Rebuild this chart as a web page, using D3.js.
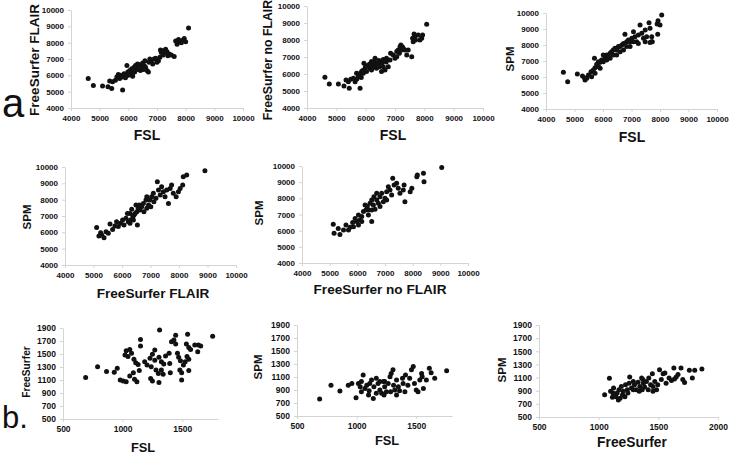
<!DOCTYPE html>
<html><head><meta charset="utf-8">
<script src="https://cdn.jsdelivr.net/npm/d3@7/dist/d3.min.js"></script>
<style>
body{margin:0;background:#fff}
svg{display:block;font-family:"Liberation Sans",Arial,sans-serif}
</style></head><body><svg id="c" width="733" height="453"></svg>
<script>
// ---- tick labels ----
const ticksA = [4000,5000,6000,7000,8000,9000,10000];
const ticksBy = [500,700,900,1100,1300,1500,1700,1900];
const ticksBx = [500,1000,1500];
const ticksBx2 = [500,1000,1500,2000];

// ---- data: [x, y] pairs ----
// a1: FSL vs FreeSurfer FLAIR
const fslVsFsFlair = [[4600,5800],[4780,5370],[5100,5350],[5290,5300],[5420,5200],[5350,5650],[5450,5600],[5550,5700],[5600,5900],[5650,6050],[5700,5800],[5720,6000],[5780,5900],[5800,5100],[5850,6100],[5900,5850],[5950,6600],[5980,6200],[6000,6000],[6050,6300],[6100,6250],[6120,6400],[6150,5950],[6200,6500],[6220,6200],[6250,6350],[6280,6600],[6300,6450],[6320,6700],[6350,6550],[6380,6400],[6400,6650],[6420,6300],[6450,6600],[6480,6500],[6500,6750],[6520,6350],[6550,6600],[6580,6900],[6600,6500],[6650,6300],[6700,6200],[6720,6800],[6750,7000],[6800,6900],[6850,6700],[6900,7000],[6950,7050],[7000,6800],[7050,6900],[7100,7100],[7120,7550],[7150,7400],[7200,7500],[7220,7250],[7250,7400],[7300,7600],[7350,7450],[7380,7200],[7420,7300],[7500,7250],[7600,7150],[7650,8100],[7700,7900],[7750,8200],[7800,8050],[7850,8000],[7900,8150],[7950,8250],[8000,8050],[8100,8900],[6250,6600],[6350,6650],[6300,6350],[6150,6150],[6050,6050],[5900,6000]];
// a2: FSL vs FreeSurfer no FLAIR
const fslVsFsNoFlair = [[4610,5810],[4760,5410],[5070,5410],[5260,5300],[5330,5650],[5410,5550],[5440,5160],[5810,5160],[5490,5690],[5580,5750],[5640,5550],[5690,6040],[5750,5850],[5810,5940],[5860,6140],[5920,6040],[5940,6630],[5980,6340],[6030,6140],[6090,6530],[6150,6340],[6200,6730],[6200,6240],[6260,6530],[6320,6920],[6370,6630],[6370,6340],[6460,6430],[6490,6730],[6540,6140],[6600,6430],[6660,6240],[6710,6920],[6770,6430],[6830,6830],[6850,7220],[6940,7120],[7000,6920],[7060,7020],[7060,7320],[7150,7220],[7170,7610],[7230,7410],[7280,7510],[7340,7410],[7400,7120],[7450,7410],[7570,7020],[7620,7900],[7650,8350],[7680,8200],[7790,8300],[7850,8000],[7910,8100],[7940,8300],[8080,8920],[6100,6450],[6150,6600],[6250,6400],[6300,6700],[6350,6500],[6420,6550],[6450,6800],[6550,6650],[6600,6850],[5700,5700],[5750,6000],[5850,5800],[5900,6200],[6000,6450],[6700,6700],[7200,7700],[7100,7400],[7250,7600],[7700,8000],[7600,8100]];
// a3: FSL vs SPM
const fslVsSpm = [[4610,6290],[4760,5710],[5100,6190],[5280,6060],[5370,5810],[5430,5920],[5350,5960],[5490,6130],[5580,6330],[5660,6440],[5720,6580],[5700,7170],[5780,6790],[5840,6650],[5900,6920],[5950,7060],[6010,6960],[6070,7170],[6130,7380],[6190,7270],[6250,7480],[6300,7580],[6360,7380],[6420,7790],[6480,7690],[6540,7900],[6600,7580],[6660,8000],[6720,8100],[6770,8670],[6830,8210],[6890,8310],[6950,7900],[7010,8420],[7070,8830],[7120,8520],[7180,8210],[7240,8630],[7300,9250],[7360,8730],[7420,8420],[7480,8940],[7530,8520],[7615,9390],[7650,9040],[7710,8520],[7730,8210],[7930,9520],[7900,9310],[7920,8670],[8000,9250],[8060,9870],[6010,7380],[6130,7060],[6250,7170],[6360,7690],[6480,7380],[6600,7900],[6720,7690],[6830,7900],[6950,8210],[7070,8210],[7240,8100],[7480,8210],[5840,6960],[5600,6020],[5720,6230],[5900,6540],[7650,8150],[7700,8200]];
// a4: FreeSurfer FLAIR vs SPM
const fsFlairVsSpm = [[5110,6300],[5190,5780],[5290,5840],[5370,5670],[5250,5980],[5440,6040],[5520,5940],[5580,6510],[5670,6180],[5750,6390],[5810,6650],[5870,6350],[5950,6550],[6020,6750],[6070,6450],[6140,6860],[6220,6650],[6280,7160],[6300,6750],[6340,7410],[6380,6960],[6420,7060],[6460,7160],[6520,7260],[6490,7670],[6540,6450],[6570,7470],[6630,7370],[6690,7570],[6750,7770],[6770,7260],[6840,7980],[6870,7470],[6930,7670],[6980,7980],[7040,8180],[7100,8390],[7120,7880],[7190,8080],[7240,9100],[7280,8590],[7340,8280],[7390,8790],[7450,8490],[7510,8180],[7570,8590],[7630,7770],[7690,8690],[7740,8900],[7800,8390],[7900,8180],[7980,8490],[8040,8690],[8130,8900],[8150,9410],[8270,9510],[8910,9770],[6190,7160],[6400,6750],[6610,7670],[7010,7570],[6280,6550],[6870,8180]];
// a5: FreeSurfer no FLAIR vs SPM
const fsNoFlairVsSpm = [[5130,6390],[5160,5840],[5310,6140],[5370,5770],[5500,6040],[5590,6350],[5680,6040],[5740,6210],[5830,6500],[5920,6760],[5860,6250],[5980,6560],[6040,6970],[6100,6660],[6160,6870],[6220,7180],[6280,7590],[6310,7280],[6360,7490],[6400,6970],[6460,7690],[6520,7900],[6580,7590],[6600,8100],[6640,7320],[6700,7900],[6760,7690],[6820,8100],[6880,8310],[6940,7790],[7000,8000],[7060,8410],[7120,8720],[7180,8520],[7240,8210],[7280,9240],[7330,8830],[7420,8930],[7480,8620],[7540,8310],[7660,8520],[7690,8830],[7720,7790],[7910,8410],[7970,8620],[8150,9340],[8170,9440],[8390,9550],[8410,9030],[9050,9900],[6160,6560],[6400,7280],[6520,6560],[6700,8310],[6820,7490],[7060,7900],[6520,7280],[6040,6350]];
// b1: FSL vs FreeSurfer
const bFslVsFs = [[690,1140],[790,1305],[865,1230],[930,1220],[955,1280],[980,1100],[1005,1085],[1030,1075],[1020,1485],[1030,1550],[1060,1570],[1045,1460],[1075,1510],[1095,1420],[1110,1365],[1130,1340],[1150,1725],[1150,1625],[1060,1160],[1090,1210],[1100,1110],[1120,1075],[1140,1245],[1185,1380],[1205,1330],[1230,1435],[1250,1495],[1270,1560],[1270,1405],[1240,1305],[1235,1125],[1250,1085],[1280,1255],[1300,1200],[1305,1060],[1325,1255],[1340,1190],[1310,1870],[1305,1450],[1325,1380],[1345,1345],[1360,1470],[1390,1510],[1395,1355],[1400,1210],[1410,1690],[1430,1715],[1445,1655],[1445,1790],[1460,1510],[1470,1450],[1485,1395],[1480,1255],[1495,1210],[1510,1330],[1525,1380],[1540,1460],[1555,1420],[1555,1245],[1495,1100],[1545,1805],[1535,1655],[1555,1600],[1570,1570],[1605,1640],[1635,1640],[1655,1625],[1630,1535],[1755,1775]];
// b2: FSL vs SPM
const bFslVsSpm = [[690,760],[785,975],[860,885],[930,975],[960,1000],[995,780],[1015,1000],[1030,950],[1040,1030],[1055,1130],[1070,925],[1085,975],[1100,825],[1105,890],[1125,1055],[1140,770],[1145,950],[1165,1080],[1180,1000],[1195,900],[1210,850],[1225,1030],[1230,825],[1235,950],[1250,875],[1265,1000],[1280,1105],[1285,875],[1305,1210],[1310,975],[1320,900],[1335,1055],[1350,950],[1360,890],[1385,1080],[1405,875],[1410,1130],[1430,975],[1445,1080],[1460,1210],[1475,1260],[1485,1000],[1500,900],[1515,875],[1530,1055],[1545,1155],[1550,1105],[1560,925],[1585,1055],[1610,1235],[1625,1165],[1655,1080],[1755,1195],[1040,875],[1110,1000],[1195,1030],[1290,1155],[1335,825],[1390,1000],[1165,850],[1235,1030]];
// b3: FreeSurfer vs SPM
const bFsVsSpm = [[1050,840],[1090,1090],[1100,890],[1115,800],[1125,940],[1145,810],[1155,865],[1170,915],[1180,785],[1190,965],[1205,890],[1220,810],[1225,990],[1240,915],[1255,1015],[1260,1110],[1275,940],[1290,1040],[1300,990],[1315,915],[1330,1030],[1345,965],[1360,1095],[1365,915],[1375,1015],[1385,955],[1400,1040],[1415,915],[1420,1095],[1435,990],[1450,1160],[1455,965],[1470,1040],[1485,915],[1495,990],[1510,1220],[1525,1070],[1540,1160],[1555,1170],[1565,1015],[1590,1095],[1610,1055],[1630,1245],[1635,1080],[1650,1110],[1665,1145],[1690,1245],[1705,1070],[1720,1025],[1760,1210],[1785,1095],[1805,1210],[1865,1230],[1120,865],[1165,760],[1200,840],[1245,865],[1290,915],[1340,890],[1370,1070],[1455,890]];

// ---- panel layout ----
const panels = [
  {data:fslVsFsFlair, xl:"FSL", yl:"FreeSurfer FLAIR", xd:[4000,10000], yd:[4000,10000], xr:[71,243], yr:[108,10], xt:ticksA, yt:ticksA, xlp:[147,135], ylp:[34,60], xfs:14, yfs:13.5, tfs:8},
  {data:fslVsFsNoFlair, xl:"FSL", yl:"FreeSurfer no FLAIR", xd:[4000,10000], yd:[4000,10000], xr:[307,483], yr:[108,6], xt:ticksA, yt:ticksA, xlp:[393,135], ylp:[268,60], xfs:14, yfs:12.3, tfs:8},
  {data:fslVsSpm, xl:"FSL", yl:"SPM", xd:[4000,10000], yd:[4000,10000], xr:[546,717], yr:[109,13], xt:ticksA, yt:ticksA, xlp:[632,137], ylp:[510,59], xfs:14, yfs:11.5, tfs:8},
  {data:fsFlairVsSpm, xl:"FreeSurfer FLAIR", yl:"SPM", xd:[4000,10000], yd:[4000,10000], xr:[65,236], yr:[265,167], xt:ticksA, yt:ticksA, xlp:[153,293], ylp:[27,217], xfs:13.6, yfs:11.5, tfs:8},
  {data:fsNoFlairVsSpm, xl:"FreeSurfer no FLAIR", yl:"SPM", xd:[4000,10000], yd:[4000,10000], xr:[302,468], yr:[263,166], xt:ticksA, yt:ticksA, xlp:[380,289], ylp:[259,213], xfs:13.6, yfs:11.5, tfs:8},
  {data:bFslVsFs, xl:"FSL", yl:"FreeSurfer", xd:[500,1800], yd:[500,1900], xr:[63,218], yr:[419,328], xt:ticksBx, yt:ticksBy, xlp:[143,447], ylp:[26,372], xfs:12.8, yfs:10.2, tfs:8.5},
  {data:bFslVsSpm, xl:"FSL", yl:"SPM", xd:[500,1800], yd:[500,1900], xr:[297,452], yr:[416,325], xt:ticksBx, yt:ticksBy, xlp:[387,440], ylp:[258,367], xfs:12.8, yfs:11.5, tfs:8.5},
  {data:bFsVsSpm, xl:"FreeSurfer", yl:"SPM", xd:[500,2000], yd:[500,1900], xr:[539,718], yr:[417,325], xt:ticksBx2, yt:ticksBy, xlp:[632,442], ylp:[502,370], xfs:13.8, yfs:11.5, tfs:8.5}
];

const svg = d3.select("#c");
const axisCol = "#d4d4d4";

panels.forEach(p => {
  const x = d3.scaleLinear().domain(p.xd).range(p.xr);
  const y = d3.scaleLinear().domain(p.yd).range(p.yr);
  const g = svg.append("g");
  const xa = g.append("g").attr("transform", `translate(0,${p.yr[0]})`)
    .call(d3.axisBottom(x).tickValues(p.xt).tickSizeInner(3).tickSizeOuter(0).tickPadding(4).tickFormat(d3.format("d")));
  const ya = g.append("g").attr("transform", `translate(${p.xr[0]},0)`)
    .call(d3.axisLeft(y).tickValues(p.yt).tickSizeInner(3).tickSizeOuter(0).tickPadding(4).tickFormat(d3.format("d")));
  [xa, ya].forEach(a => {
    a.select(".domain").attr("stroke", axisCol);
    a.selectAll(".tick line").attr("stroke", axisCol);
    a.selectAll(".tick text").attr("fill", "#111").attr("font-weight", "bold")
      .attr("font-size", p.tfs).attr("font-family", '"Liberation Sans",Arial,sans-serif');
  });
  g.append("g").selectAll("circle").data(p.data).join("circle")
    .attr("cx", d => x(d[0])).attr("cy", d => y(d[1])).attr("r", 2.5).attr("fill", "#111");
  g.append("text").attr("x", p.xlp[0]).attr("y", p.xlp[1]).attr("text-anchor", "middle")
    .attr("dominant-baseline", "central").attr("font-weight", "bold").attr("font-size", p.xfs)
    .attr("fill", "#111").text(p.xl);
  g.append("text").attr("transform", `translate(${p.ylp[0]},${p.ylp[1]}) rotate(-90)`)
    .attr("text-anchor", "middle").attr("dominant-baseline", "central").attr("font-weight", "bold")
    .attr("font-size", p.yfs).attr("fill", "#111").text(p.yl);
});

svg.append("text").attr("x", 2).attr("y", 117).attr("font-size", 40).attr("fill", "#111").text("a");
svg.append("text").attr("x", 2).attr("y", 428).attr("font-size", 31).attr("fill", "#111").text("b.");
</script></body></html>
